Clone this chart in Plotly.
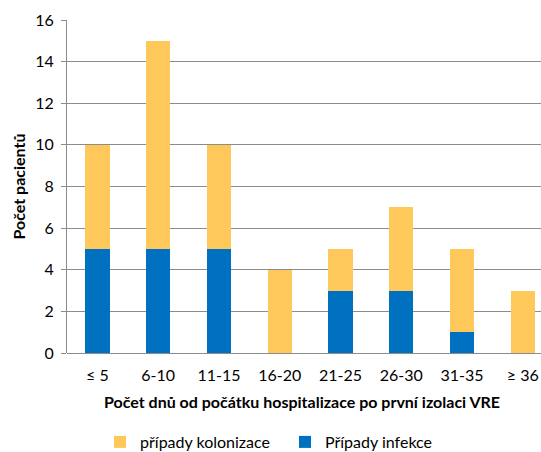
import plotly.graph_objects as go

categories = ["≤ 5", "6-10", "11-15", "16-20", "21-25", "26-30", "31-35", "≥ 36"]
infekce = [5, 5, 5, 0, 3, 3, 1, 0]
kolonizace = [5, 10, 5, 4, 2, 4, 4, 3]
y_ticks = [0, 2, 4, 6, 8, 10, 12, 14, 16]

FONT = "Lato, 'Open Sans', sans-serif"
BLUE = "#0070C0"
YELLOW = "#FEC95A"

fig = go.Figure()
fig.add_trace(go.Bar(x=categories, y=infekce, name="Případy infekce",
                     marker=dict(color=BLUE, line=dict(width=0)), legend="legend2"))
fig.add_trace(go.Bar(x=categories, y=kolonizace, name="případy kolonizace",
                     marker=dict(color=YELLOW, line=dict(width=0)), legend="legend"))

W, H = 541, 452
L, R, T, B = 67, 0, 20, 99
PW, PH = W - L - R, H - T - B


def px_x(p):
    return (p - L) / PW


def px_y(p):
    return (H - B - p) / PH


leg_common = dict(orientation="h", yanchor="middle", xanchor="left",
                  font=dict(size=16), itemwidth=30, bgcolor="rgba(0,0,0,0)")

fig.update_layout(
    width=W, height=H,
    margin=dict(l=L, r=R, t=T, b=B, autoexpand=False),
    barmode="stack", bargap=0.6,
    plot_bgcolor="white", paper_bgcolor="white",
    font=dict(family=FONT, size=16, color="#000000"),
    xaxis=dict(range=[-0.5, 7.3], showgrid=False, showline=False, ticks="",
               tickfont=dict(size=16), zeroline=False, ticklabelstandoff=11,
               automargin=False),
    yaxis=dict(range=[0, 16], tickvals=y_ticks, showgrid=True, gridcolor="#8c8c8c",
               gridwidth=1, showline=True, linecolor="#8c8c8c", linewidth=1,
               ticks="outside", ticklen=5, tickcolor="#8c8c8c",
               tickfont=dict(size=16), zeroline=True, zerolinecolor="#8c8c8c",
               zerolinewidth=1, automargin=False, ticklabelstandoff=4),
    showlegend=True,
    legend=dict(x=px_x(100), y=px_y(442), **leg_common),
    legend2=dict(x=px_x(285), y=px_y(442), **leg_common),
    annotations=[
        dict(text="<b>Počet dnů od počátku hospitalizace po první izolaci VRE</b>",
             xref="paper", yref="paper", x=0.495, y=px_y(401), xanchor="center",
             yanchor="middle", showarrow=False, font=dict(size=16)),
        dict(text="<b>Počet pacientů</b>", xref="paper", yref="paper",
             x=px_x(18), y=0.5, xanchor="center", yanchor="middle",
             textangle=-90, showarrow=False, font=dict(size=16)),
    ],
)

fig.write_html("out.html", config={"displayModeBar": False},
               post_script="document.body.style.margin='0';document.body.style.overflow='hidden';")
